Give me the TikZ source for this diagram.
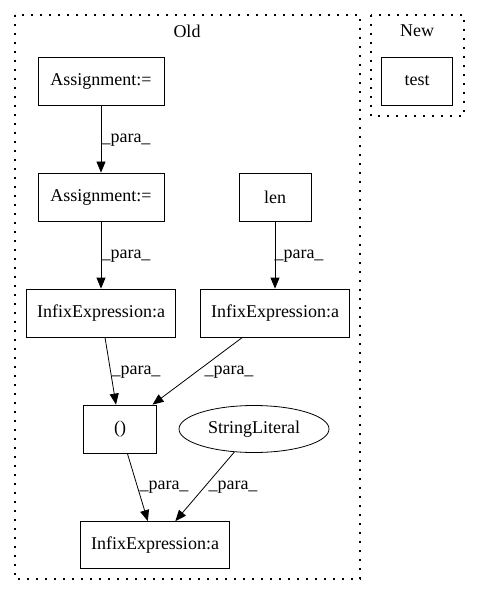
\documentclass[tikz,border=0pt]{standalone}
\usepackage{fontspec}
\setmainfont{Liberation Serif}
\usetikzlibrary{arrows.meta,shapes.geometric}
\begin{document}
\begin{tikzpicture}[x=1pt,y=-1pt,
  every node/.style={font=\fontsize{18}{20}\selectfont},
  box/.style={draw,thick,rectangle,inner sep=0pt,minimum height=48pt},
  oval/.style={draw,thick,ellipse,inner sep=0pt,minimum width=150pt,minimum height=47pt},
  cluster/.style={draw,line width=1.2pt,dash pattern=on 2pt off 7pt},
  edge/.style={draw,thick,-{Triangle[length=11pt,width=9pt]}},
  lbl/.style={inner sep=0pt}]
\useasboundingbox (0,0) rectangle (480,596);
\draw[cluster] (15,15) rectangle (360,579);
\draw[cluster] (371,15) rectangle (464,116);
\node (oldlbl) at (187,31) {Old};
\node (newlbl) at (417,31) {New};
\node[box,minimum width=71pt] (test) at (417,81) {test};
\node[box,minimum width=126pt] (a1) at (101,81) {Assignment:=};
\node[box,minimum width=126pt] (a2) at (101,197) {Assignment:=};
\node[box,minimum width=72pt] (len) at (275,197) {len};
\node[box,minimum width=149pt] (il) at (101,313) {InfixExpression:a};
\node[box,minimum width=149pt] (ir) at (275,313) {InfixExpression:a};
\node[box,minimum width=73pt] (par) at (120,429) {()};
\node[oval] (sl) at (254,429) {StringLiteral};
\node[box,minimum width=149pt,minimum height=47pt] (ib) at (155,545) {InfixExpression:a};
\draw[edge] (a1) -- (a2);
\draw[edge] (a2) -- (il);
\draw[edge] (len) -- (ir);
\draw[edge] (il) -- (par);
\draw[edge] (ir) -- (par);
\draw[edge] (par) -- (ib);
\draw[edge] (sl) -- (ib);
\node[lbl] (l1) at (126,140) {\_para\_};
\node[lbl] (l2) at (126,256) {\_para\_};
\node[lbl] (l3) at (299,256) {\_para\_};
\node[lbl] (l4) at (136,372) {\_para\_};
\node[lbl] (l5) at (229,372) {\_para\_};
\node[lbl] (l6) at (164,487) {\_para\_};
\node[lbl] (l7) at (233,487) {\_para\_};
\end{tikzpicture}
\end{document}
